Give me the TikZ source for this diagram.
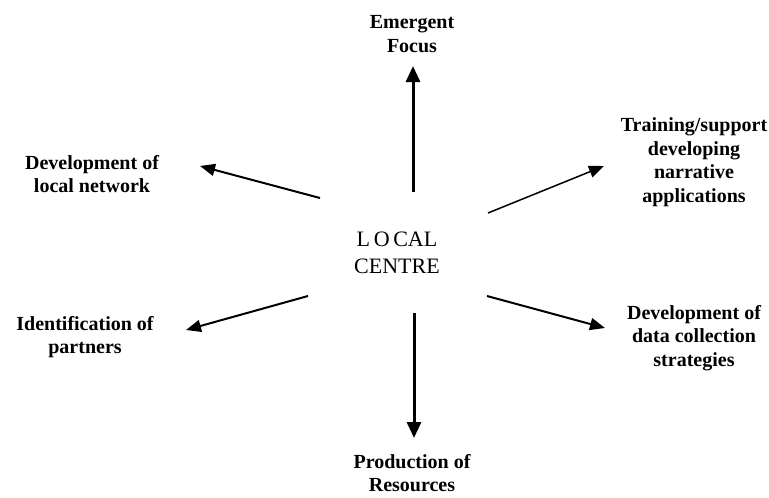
\documentclass[tikz,border=0pt]{standalone}
\usepackage{fontspec}
\setmainfont{Liberation Serif}
\usetikzlibrary{arrows.meta}
\tikzset{>={Triangle[length=15pt,width=12pt]}}
\tikzset{
  label/.style={align=center, inner sep=0pt, font=\bfseries\fontsize{20}{23.5}\selectfont},
  flow/.style={->, line width=2pt},
  bigflow/.style={->, line width=3pt, >={Triangle[length=16pt,width=14pt]}}
}

\begin{document}
\begin{tikzpicture}[x=1pt, y=-1pt]
      \useasboundingbox (0,0) rectangle (769,498);

      % Centre
      \node[align=center, inner sep=0pt, font=\fontsize{22}{27}\selectfont] (centre) at (397, 253) {L\,O\,CAL\\CENTRE};

      % Labels round the centre
      \node[label] (focus) at (412, 34) {Emergent\\Focus};
      \node[label] (network) at (92, 174) {Development of\\local network};
      \node[label] (training) at (694, 162) {Training/support\\developing\\narrative\\applications};
      \node[label] (partners) at (85, 337) {Identification of\\partners};
      \node[label] (strategies) at (694, 338) {Development of\\data collection\\strategies};
      \node[label] (resources) at (412, 473) {Production of\\Resources};

      % Arrow ends
      \coordinate (up0) at (413, 192);   \coordinate (up1) at (413, 66);
      \coordinate (nw0) at (320, 198);   \coordinate (nw1) at (200, 166);
      \coordinate (ne0) at (488, 213);   \coordinate (ne1) at (604, 166);
      \coordinate (sw0) at (308, 296);   \coordinate (sw1) at (186, 330);
      \coordinate (se0) at (487, 296);   \coordinate (se1) at (605, 328);
      \coordinate (dn0) at (414, 313);   \coordinate (dn1) at (414, 438);

      % Arrows
      \draw[bigflow] (up0)--(up1);
      \draw[flow] (nw0)--(nw1);
      \draw[flow, line width=1.5pt] (ne0)--(ne1);
      \draw[flow] (sw0)--(sw1);
      \draw[flow] (se0)--(se1);
      \draw[bigflow] (dn0)--(dn1);

\end{tikzpicture}
\end{document}
